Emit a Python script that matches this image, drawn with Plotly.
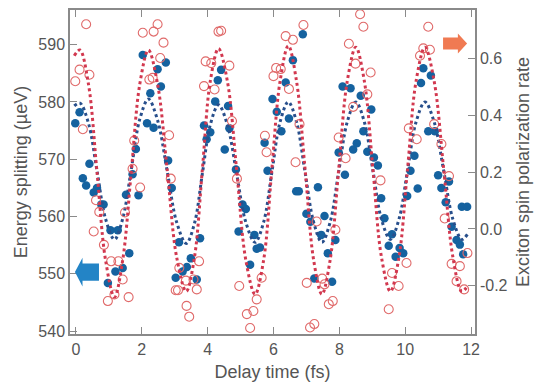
import plotly.graph_objects as go

# ---- data ----
# Energy splitting (left axis, µeV) – filled blue dots
blue_x = [-0.02, 0.11, 0.21, 0.31, 0.41, 0.54, 0.64, 0.77, 0.84, 0.97, 1.05, 1.20, 1.27, 1.42, 1.52, 1.62, 1.72, 1.82, 1.90,
          2.03, 2.16, 2.26, 2.36, 2.48, 2.58, 2.73, 2.80, 2.91, 3.03, 3.13, 3.24, 3.37, 3.49, 3.67, 3.77, 3.89, 3.97,
          4.08, 4.23, 4.31, 4.41, 4.52, 4.62, 4.66, 4.86, 4.94, 5.06, 5.16, 5.29, 5.42, 5.49, 5.59, 5.73, 5.82, 5.97, 6.10,
          6.24, 6.37, 6.47, 6.59, 6.69, 6.77, 6.89, 7.00, 7.12, 7.24, 7.35, 7.45, 7.55, 7.65, 7.78, 7.88, 7.98, 8.10,
          8.17, 8.34, 8.42, 8.53, 8.65, 8.73, 8.85, 8.97, 9.05, 9.17, 9.27, 9.37, 9.50, 9.60, 9.71, 9.83, 9.94, 10.06, 10.16,
          10.28, 10.38, 10.48, 10.55, 10.70, 10.78, 10.90, 11.00, 11.10, 11.23, 11.33, 11.41, 11.56, 11.66, 11.72, 11.76, 11.88]
blue_y = [576.3, 578.2, 566.7, 565.4, 569.2, 564.2, 565.0, 562.1, 562.1, 548.4, 557.6, 550.4, 557.6, 551.0, 563.8, 553.6, 567.4, 571.8, 563.7,
          588.2, 576.3, 581.5, 575.5, 585.7, 582.7, 586.9, 569.8, 565.0, 549.3, 555.5, 550.4, 551.2, 552.7, 549.0, 556.2, 575.9, 573.5,
          574.7, 580.1, 583.8, 585.6, 571.7, 579.3, 575.4, 568.2, 557.4, 562.1, 561.3, 551.6, 556.8, 554.4, 554.6, 572.9, 568.0, 580.5, 578.3,
          574.9, 583.4, 577.1, 587.3, 564.4, 564.4, 591.8, 560.5, 559.1, 549.2, 565.1, 556.8, 560.1, 553.6, 548.6, 555.9, 571.2, 582.7,
          567.3, 582.4, 571.7, 572.8, 581.1, 574.9, 571.3, 578.7, 570.3, 568.9, 563.2, 559.7, 554.9, 556.9, 553.0, 554.5, 553.6, 563.6, 568.0,
          570.6, 564.9, 583.3, 585.9, 574.9, 584.6, 574.9, 567.2, 565.0, 562.5, 566.1, 558.2, 555.9, 555.1, 561.7, 553.4, 561.7]

# Exciton spin polarization rate (right axis) – open red circles
red_x = [-0.02, 0.11, 0.21, 0.31, 0.41, 0.54, 0.61, 0.71, 0.85, 0.97, 1.07, 1.17, 1.29, 1.42, 1.49, 1.60, 1.72, 1.77, 1.95,
         2.03, 2.23, 2.33, 2.36, 2.48, 2.56, 2.66, 2.83, 2.88, 3.03, 3.10, 3.14, 3.34, 3.36, 3.44, 3.57, 3.67, 3.74, 3.89, 3.94,
         4.11, 4.21, 4.33, 4.41, 4.66, 4.74, 4.89, 4.96, 5.19, 5.29, 5.39, 5.49, 5.64, 5.74, 5.79, 6.00, 6.08, 6.22,
         6.37, 6.47, 6.59, 6.67, 6.79, 6.91, 7.01, 7.11, 7.24, 7.31, 7.48, 7.55, 7.68, 7.80, 7.88, 7.98,
         8.19, 8.29, 8.42, 8.49, 8.63, 8.73, 8.85, 8.95, 9.25, 9.50, 9.60, 9.80, 10.04, 10.11,
         10.35, 10.45, 10.55, 10.70, 10.75, 10.88, 11.10, 11.20, 11.33, 11.41, 11.56, 11.66, 11.79, 11.89]
red_y = [0.520, 0.561, 0.351, 0.721, 0.543, -0.009, 0.101, 0.060, -0.056, -0.254, -0.114, -0.231, -0.114, -0.178, 0.058, -0.240, 0.212, 0.311, 0.146,
         0.691, 0.526, 0.532, 0.695, 0.721, 0.602, 0.656, 0.330, 0.177, -0.216, -0.216, -0.137, -0.182, -0.271, -0.309, -0.178, -0.213, -0.114, 0.503, 0.590,
         0.584, 0.491, 0.695, 0.698, 0.575, 0.380, 0.177, -0.201, -0.300, -0.349, -0.289, -0.248, -0.172, 0.328, 0.270, 0.538, 0.567, 0.563,
         0.679, 0.493, 0.666, 0.235, 0.369, 0.718, -0.190, -0.347, -0.335, 0.026, -0.175, -0.195, -0.265, -0.254, -0.003, 0.322,
         0.249, 0.652, 0.430, 0.582, 0.756, 0.712, 0.474, 0.551, 0.171, -0.283, -0.155, -0.201, -0.120, 0.354,
         0.316, 0.610, 0.636, 0.712, 0.631, 0.369, 0.299, 0.037, 0.186, -0.123, -0.184, -0.131, -0.213, -0.085]

# Fitted oscillation curves (dotted) at regular points along each cycle
fit_x = [-0.05, 0.12, 0.38, 0.64, 0.90, 1.17, 1.42, 1.68, 1.94, 2.20, 2.48, 2.77, 3.06, 3.35, 3.60, 3.84, 4.08,
         4.33, 4.60, 4.88, 5.16, 5.44, 5.70, 5.95, 6.20, 6.45, 6.70, 6.96, 7.22, 7.47, 7.72, 7.98, 8.24,
         8.50, 8.76, 9.02, 9.28, 9.55, 9.81, 10.07, 10.33, 10.60, 10.88, 11.17, 11.45, 11.72, 11.90]
red_fit_y = [0.61, 0.63, 0.51, 0.20, -0.11, -0.24, -0.11, 0.20, 0.51, 0.63, 0.51, 0.21, -0.10, -0.22, -0.10, 0.21, 0.52,
             0.635, 0.52, 0.21, -0.11, -0.23, -0.11, 0.21, 0.52, 0.645, 0.52, 0.21, -0.11, -0.23, -0.11, 0.21, 0.52,
             0.64, 0.52, 0.21, -0.10, -0.22, -0.10, 0.21, 0.52, 0.64, 0.52, 0.21, -0.10, -0.22, -0.20]
blue_fit_y = [579.3, 579.8, 576.3, 568.0, 559.6, 556.0, 559.6, 568.2, 577.0, 580.5, 576.8, 568.0, 559.0, 555.3, 558.8, 567.5, 576.0,
              579.5, 576.0, 567.5, 559.0, 555.5, 559.0, 567.7, 576.5, 580.0, 576.5, 567.7, 559.0, 555.5, 559.0, 567.8, 576.5,
              580.0, 576.5, 568.0, 559.5, 556.0, 559.5, 568.0, 576.5, 580.0, 576.5, 568.0, 559.5, 556.0, 557.0]

x_ticks = [0, 2, 4, 6, 8, 10, 12]
left_ticks = [540, 550, 560, 570, 580, 590]
right_ticks = [-0.2, 0.0, 0.2, 0.4, 0.6]

FONT = "Liberation Sans, Arial, sans-serif"
GRAY = "#555555"
AXIS = "#8a8a8a"

fig = go.Figure()
fig.add_trace(go.Scatter(x=blue_x, y=blue_y, mode="markers",
                         marker=dict(size=8.5, color="#15629f", line=dict(width=0)),
                         showlegend=False, yaxis="y"))
fig.add_trace(go.Scatter(x=fit_x, y=blue_fit_y, mode="lines", line_shape="spline",
                         line=dict(color="#284f8c", width=3, dash="dot"),
                         showlegend=False, yaxis="y"))
fig.add_trace(go.Scatter(x=red_x, y=red_y, mode="markers",
                         marker=dict(size=9, color="#e06a6a", symbol="circle-open",
                                     line=dict(width=1.1, color="#e06a6a")),
                         showlegend=False, yaxis="y2"))
fig.add_trace(go.Scatter(x=fit_x, y=red_fit_y, mode="lines", line_shape="spline",
                         line=dict(color="#d2384f", width=3, dash="dot"),
                         showlegend=False, yaxis="y2"))

# block arrows indicating which axis each series belongs to
fig.add_shape(type="path", xref="x", yref="y",
              path="M -0.03 550.3 L 0.20 552.8 L 0.20 551.8 L 0.70 551.8 L 0.70 548.8 L 0.20 548.8 L 0.20 547.8 Z",
              fillcolor="#2384c6", line=dict(width=0))
fig.add_shape(type="path", xref="x", yref="y2",
              path="M 11.88 0.653 L 11.60 0.688 L 11.60 0.674 L 11.15 0.674 L 11.15 0.632 L 11.60 0.632 L 11.60 0.618 Z",
              fillcolor="#f07a52", line=dict(width=0))

fig.update_layout(
    width=538, height=387,
    margin=dict(l=70, r=61, t=8, b=52),
    paper_bgcolor="white", plot_bgcolor="white",
    font=dict(family=FONT, color=GRAY, size=16),
    xaxis=dict(range=[-0.18, 12.12], tickvals=x_ticks, ticks="inside", ticklen=7, tickcolor=AXIS,
               showline=True, linecolor=AXIS, linewidth=1.5, mirror="ticks", showgrid=False, zeroline=False,
               tickfont=dict(size=16, color=GRAY),
               title=dict(text="Delay time (fs)", font=dict(size=18, color=GRAY), standoff=8)),
    yaxis=dict(range=[539.5, 596.05], tickvals=left_ticks, ticks="inside", ticklen=7, tickcolor=AXIS,
               showline=True, linecolor=AXIS, linewidth=1.5, showgrid=False, zeroline=False,
               tickfont=dict(size=16, color=GRAY),
               title=dict(text="Energy splitting (µeV)", font=dict(size=18, color=GRAY), standoff=6)),
    yaxis2=dict(range=[-0.370, 0.771], tickvals=right_ticks, ticktext=["-0.2", "0.0", "0.2", "0.4", "0.6"],
                overlaying="y", side="right", ticks="inside", ticklen=7, tickcolor=AXIS,
                showline=True, linecolor=AXIS, linewidth=1.5, showgrid=False, zeroline=False,
                tickfont=dict(size=16, color=GRAY),
                title=dict(text="Exciton spin polarization rate", font=dict(size=18, color=GRAY), standoff=10)),
)

fig.write_html("out.html")
